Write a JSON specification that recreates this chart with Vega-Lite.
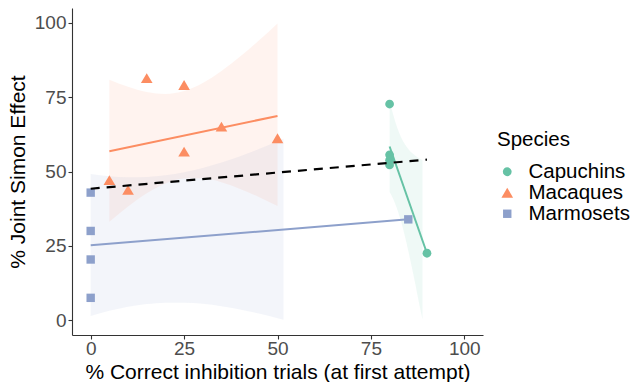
{
  "$schema": "https://vega.github.io/schema/vega-lite/v6.json",
  "width": 411,
  "height": 327,
  "autosize": {"type": "none"},
  "padding": {"left": 72, "top": 8, "right": 149, "bottom": 47},
  "background": "white",
  "config": {
    "view": {"stroke": null},
    "font": "Liberation Sans",
    "axis": {"grid": false, "domainColor": "#333333", "domainWidth": 1.1, "tickColor": "#333333", "tickWidth": 1.1, "labelColor": "#4D4D4D", "labelFont": "Liberation Sans", "titleFont": "Liberation Sans", "titleColor": "black", "titleFontWeight": "normal"},
    "legend": {"titleFontSize": 20.5, "titleFontWeight": "normal", "titleColor": "black", "labelFontSize": 20.5, "labelColor": "black", "symbolSize": 144, "labelOffset": 11, "rowPadding": -4, "titlePadding": 11, "padding": 0}
  },
  "datasets": {
    "pts": [
      {"species": "Capuchins", "x": 80, "y": 72.7},
      {"species": "Capuchins", "x": 80, "y": 55.6},
      {"species": "Capuchins", "x": 80, "y": 53.8},
      {"species": "Capuchins", "x": 80, "y": 52.2},
      {"species": "Capuchins", "x": 90, "y": 22.5},
      {"species": "Macaques", "x": 5, "y": 47.1},
      {"species": "Macaques", "x": 10, "y": 43.8},
      {"species": "Macaques", "x": 15, "y": 81.4},
      {"species": "Macaques", "x": 25, "y": 79.1},
      {"species": "Macaques", "x": 25, "y": 56.7},
      {"species": "Macaques", "x": 35, "y": 65.1},
      {"species": "Macaques", "x": 50, "y": 61.2},
      {"species": "Marmosets", "x": 0, "y": 42.9},
      {"species": "Marmosets", "x": 0, "y": 30.0},
      {"species": "Marmosets", "x": 0, "y": 20.4},
      {"species": "Marmosets", "x": 0, "y": 7.5},
      {"species": "Marmosets", "x": 85, "y": 33.9}
    ],
    "fits": [
      {"species": "Capuchins", "x": 80, "y": 58.4},
      {"species": "Capuchins", "x": 90, "y": 22.5},
      {"species": "Macaques", "x": 5, "y": 56.8},
      {"species": "Macaques", "x": 50, "y": 68.7},
      {"species": "Marmosets", "x": 0, "y": 25.2},
      {"species": "Marmosets", "x": 85, "y": 33.9}
    ],
    "overall": [
      {"x": 0, "y": 44.2},
      {"x": 90, "y": 54.0}
    ],
    "bands": [
      {"species": "Capuchins", "x": 80, "lo": 43.1, "hi": 73.7},
      {"species": "Capuchins", "x": 81, "lo": 40.7, "hi": 68.9},
      {"species": "Capuchins", "x": 82, "lo": 37.5, "hi": 64.9},
      {"species": "Capuchins", "x": 83, "lo": 33.5, "hi": 61.7},
      {"species": "Capuchins", "x": 84, "lo": 28.7, "hi": 59.3},
      {"species": "Capuchins", "x": 85, "lo": 23.3, "hi": 57.6},
      {"species": "Capuchins", "x": 86, "lo": 17.5, "hi": 56.2},
      {"species": "Capuchins", "x": 87, "lo": 11.4, "hi": 55.2},
      {"species": "Capuchins", "x": 88, "lo": 5.0, "hi": 54.4},
      {"species": "Capuchins", "x": 88.8, "lo": 0.3, "hi": 53.9},
      {"species": "Macaques", "x": 5, "lo": 33.1, "hi": 80.9},
      {"species": "Macaques", "x": 10, "lo": 38.2, "hi": 78.5},
      {"species": "Macaques", "x": 15, "lo": 42.65, "hi": 76.75},
      {"species": "Macaques", "x": 20, "lo": 45.97, "hi": 76.11},
      {"species": "Macaques", "x": 25, "lo": 47.68, "hi": 77.08},
      {"species": "Macaques", "x": 30, "lo": 47.69, "hi": 79.75},
      {"species": "Macaques", "x": 35, "lo": 46.35, "hi": 83.77},
      {"species": "Macaques", "x": 40, "lo": 44.14, "hi": 88.66},
      {"species": "Macaques", "x": 45, "lo": 41.42, "hi": 94.06},
      {"species": "Macaques", "x": 50, "lo": 38.4, "hi": 99.8},
      {"species": "Marmosets", "x": 0, "lo": 1.38, "hi": 49.12},
      {"species": "Marmosets", "x": 5, "lo": 3.12, "hi": 48.4},
      {"species": "Marmosets", "x": 10, "lo": 4.49, "hi": 48.07},
      {"species": "Marmosets", "x": 15, "lo": 5.41, "hi": 48.17},
      {"species": "Marmosets", "x": 20, "lo": 5.88, "hi": 48.74},
      {"species": "Marmosets", "x": 25, "lo": 5.89, "hi": 49.75},
      {"species": "Marmosets", "x": 30, "lo": 5.49, "hi": 51.19},
      {"species": "Marmosets", "x": 35, "lo": 4.7, "hi": 53.0},
      {"species": "Marmosets", "x": 40, "lo": 3.6, "hi": 55.14},
      {"species": "Marmosets", "x": 45, "lo": 2.23, "hi": 57.53},
      {"species": "Marmosets", "x": 50, "lo": 0.65, "hi": 60.15},
      {"species": "Marmosets", "x": 51.6, "lo": 0.11, "hi": 61.01}
    ]
  },
  "resolve": {"scale": {"color": "independent", "shape": "independent"}, "legend": {"color": "independent", "shape": "independent"}},
  "layer": [
    {
      "data": {"name": "bands"},
      "mark": {"type": "area", "fillOpacity": 0.1, "interpolate": "monotone"},
      "encoding": {
        "x": {"field": "x", "type": "quantitative", "scale": {"domain": [-5, 105], "nice": false, "zero": false},
              "axis": {"values": [0, 25, 50, 75, 100], "title": "% Correct inhibition trials (at first attempt)", "labelFontSize": 19, "titleFontSize": 21, "tickSize": 4, "labelPadding": 0, "titlePadding": 3, "labelFlush": false}},
        "y": {"field": "lo", "type": "quantitative", "scale": {"domain": [-5, 105], "nice": false, "zero": false},
              "axis": {"values": [0, 25, 50, 75, 100], "title": "% Joint Simon Effect", "labelFontSize": 19, "titleFontSize": 21, "tickSize": 4, "labelPadding": 2, "titleX": -44, "labelFlush": false}},
        "y2": {"field": "hi"},
        "color": {"field": "species", "type": "nominal", "scale": {"domain": ["Capuchins", "Macaques", "Marmosets"], "range": ["#66C2A5", "#FC8D62", "#8DA0CB"]}, "legend": null}
      }
    },
    {
      "data": {"name": "fits"},
      "mark": {"type": "line", "strokeWidth": 2},
      "encoding": {
        "x": {"field": "x", "type": "quantitative"},
        "y": {"field": "y", "type": "quantitative"},
        "color": {"field": "species", "type": "nominal", "scale": {"domain": ["Capuchins", "Macaques", "Marmosets"], "range": ["#66C2A5", "#FC8D62", "#8DA0CB"]}, "legend": null}
      }
    },
    {
      "data": {"name": "pts"},
      "mark": {"type": "point", "filled": true, "opacity": 1, "size": 144},
      "encoding": {
        "x": {"field": "x", "type": "quantitative"},
        "y": {"field": "y", "type": "quantitative"},
        "color": {"field": "species", "type": "nominal", "title": "Species",
                  "scale": {"domain": ["Capuchins", "Macaques", "Marmosets"], "range": ["#66C2A5", "#FC8D62", "#8DA0CB"]},
                  "legend": {"orient": "none", "legendX": 425, "legendY": 122}},
        "shape": {"field": "species", "type": "nominal", "title": "Species",
                  "legend": {"orient": "none", "legendX": 425, "legendY": 122},
                  "scale": {"domain": ["Capuchins", "Macaques", "Marmosets"],
                            "range": ["M0.73,0A0.73,0.73,0,1,1,-0.73,0A0.73,0.73,0,1,1,0.73,0Z", "M0,-0.82L0.97,0.82L-0.97,0.82Z", "M-0.7,-0.7H0.7V0.7H-0.7Z"]}}
      }
    },
    {
      "data": {"name": "overall"},
      "mark": {"type": "line", "color": "black", "strokeWidth": 2.2, "strokeDash": [9, 7]},
      "encoding": {
        "x": {"field": "x", "type": "quantitative"},
        "y": {"field": "y", "type": "quantitative"}
      }
    }
  ]
}
